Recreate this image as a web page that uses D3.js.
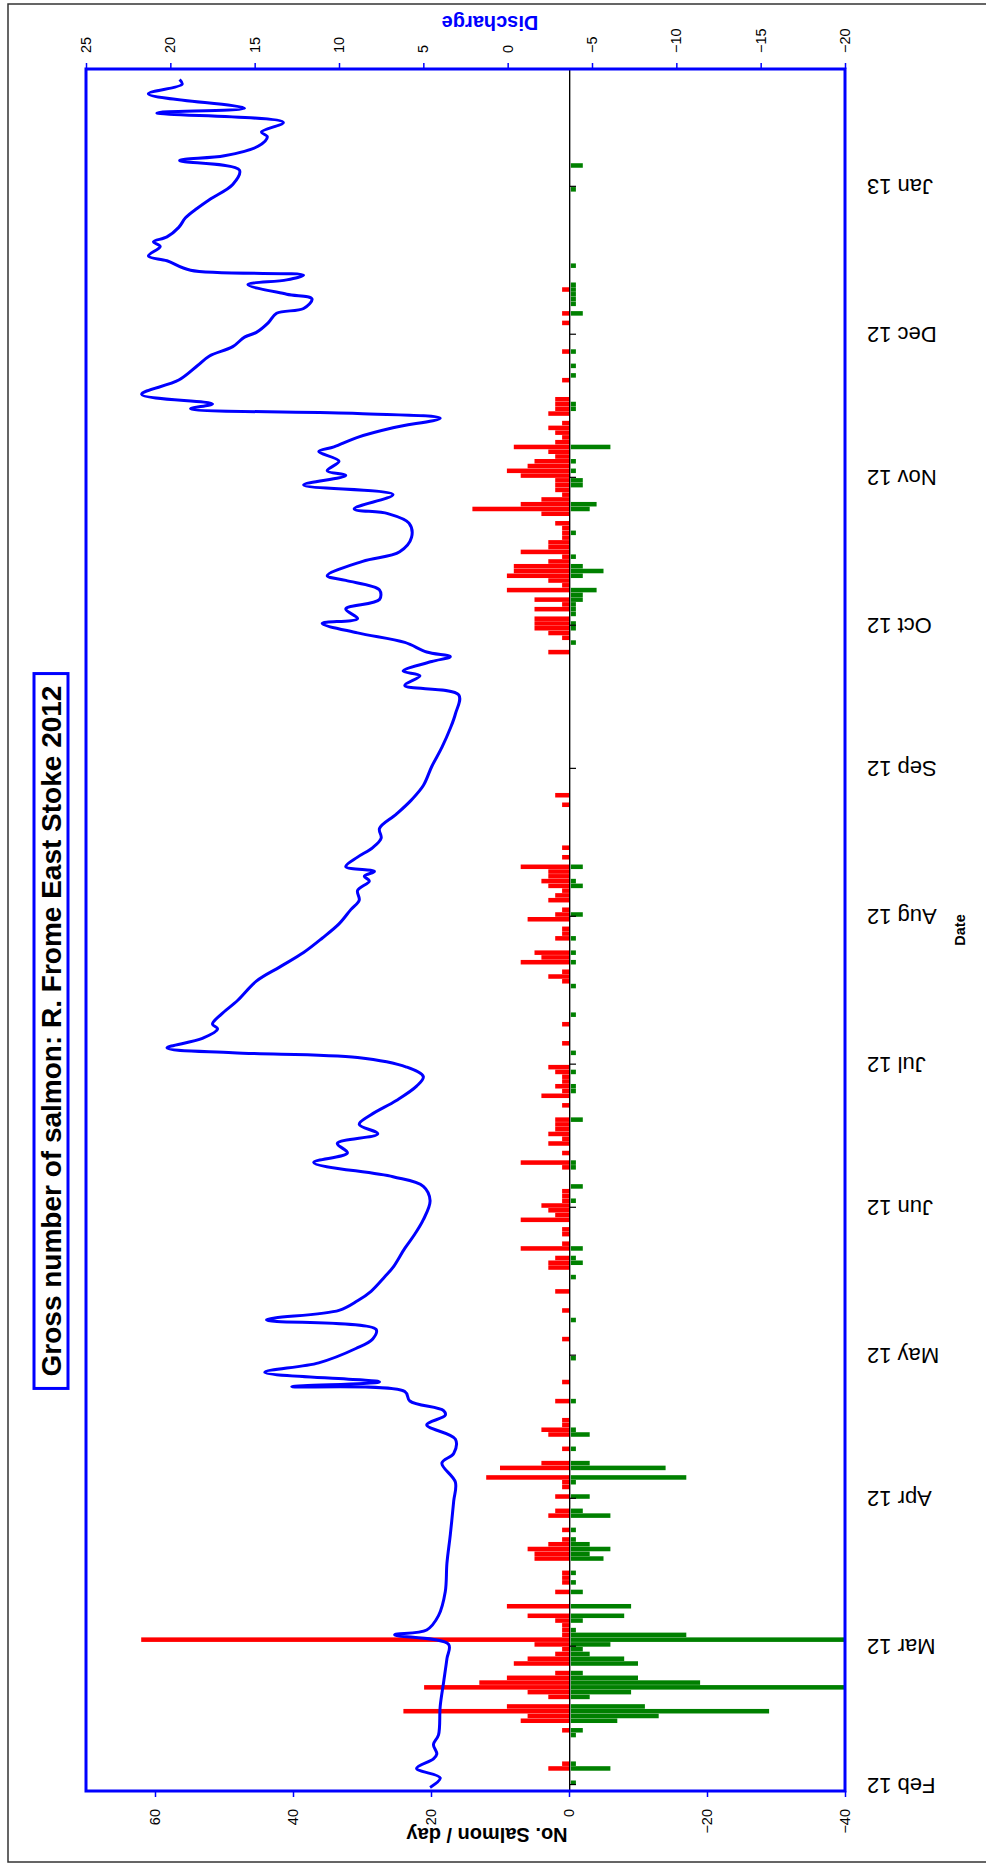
<!DOCTYPE html>
<html lang="en">
<head>
<meta charset="UTF-8">
<title>Gross number of salmon</title>
<style>
  body { margin: 0; background: #fff; }
  svg { display: block; font-family: "Liberation Sans", Arial, sans-serif; }
  .tick text { font-size: 14.5px; fill: #000; }
  .val-axis line { stroke: #0000ff; stroke-width: 1.5px; }
  .val-axis path { display: none; }
  .date-axis path { stroke: #000; stroke-width: 1px; }
  .date-axis line { stroke: #000; stroke-width: 1.2px; }
</style>
</head>
<body>
<svg></svg>
<script src="https://cdn.jsdelivr.net/npm/d3@7"></script>
<script>
// day numbers count from 1 Feb 2012
var countDay = [0,3,4,10,11,13,14,15,16,18,19,20,21,22,23,25,26,27,28,29,30,31,32,33,34,35,37,40,42,43,44,47,48,49,50,51,53,56,57,60,62,63,64,66,67,70,73,74,75,76,80,84,89,93,97,99,103,
  106,108,109,110,112,113,115,116,118,119,120,121,122,123,124,125,129,130,132,134,135,136,137,138,139,142,144,145,146,147,148,149,150,153,155,159,161,167,168,169,170,172,173,174,177,178,179,181,182,183,185,186,187,188,189,190,191,192,194,196,205,207,
  237,239,240,241,242,243,244,245,246,247,248,249,250,251,252,253,254,255,256,257,258,259,260,261,262,263,264,266,267,268,269,270,271,272,273,274,275,276,277,278,279,280,281,282,283,284,285,287,288,289,290,294,295,297,300,306,308,310,311,312,313,314,318,334,339];
var salmonUp = [0,3,1,0,1,7,6,24,9,3,6,21,13,9,2,8,6,2,1,5,62,1,1,1,2,6,9,2,1,1,1,5,5,6,3,1,1,3,2,2,1,1,12,10,4,1,3,4,1,1,2,1,0,1,0,1,2,
  0,3,3,2,7,1,1,1,7,2,3,4,1,1,1,0,1,7,1,3,1,3,2,2,2,1,4,1,2,1,1,2,3,0,1,1,0,0,1,3,1,7,4,5,2,1,1,6,2,1,3,2,1,3,4,3,3,7,1,1,1,2,
  3,0,1,3,5,5,5,0,5,1,5,0,9,1,3,9,8,8,3,1,7,3,3,1,1,1,2,4,14,7,4,1,2,2,2,7,9,6,5,2,3,8,2,1,2,3,1,3,2,2,2,1,0,0,1,1,1,0,0,0,1,0,0,0,0];
var salmonDown = [-1,-6,-1,-1,-2,-7,-13,-29,-11,-3,-9,-40,-19,-10,-2,-10,-8,-3,-2,-6,-40,-17,-1,0,-2,-8,-9,-2,-1,0,-1,-5,-3,-6,-3,-1,-1,-6,-2,-3,0,-1,-17,-14,-3,-1,-3,-1,0,0,-1,0,-1,0,-1,0,0,
  -1,0,-2,-1,-2,0,0,0,0,0,0,0,-1,0,0,-2,-1,-1,0,0,0,0,0,0,-2,0,0,-1,-1,0,0,-1,0,-1,0,0,-1,-1,0,0,0,-1,0,-1,-1,0,0,0,-2,0,0,0,0,-2,-1,0,0,-2,0,0,0,0,
  0,-1,0,0,-1,-1,0,-1,-1,-1,-2,-2,-4,0,0,-2,-5,-2,0,-1,0,0,0,0,-1,0,0,0,-3,-4,0,0,0,-2,-2,0,-1,0,-1,0,0,-6,0,0,0,0,0,0,-1,-1,0,0,-1,-1,-1,0,-2,-1,-1,-1,-1,-1,-1,-1,-2];

var dischargeDay = [-1,1,3,5,6,8,10,16,21,26,29,31,32,35,40,46,52,59,63,67,69,72,75,77,78,80,82,83,84,86,88,91,93,95,97,99,101,103,106,108,112,115,118,122,
  125,127,130,132,134,136,138,140,143,146,148,150,152,153,154,156,158,159,161,164,168,171,174,177,180,183,185,187,189,190,191,192,194,196,198,200,203,206,209,213,217,221,224,228,
  230,232,233,235,236,237,239,241,243,244,246,248,250,252,253,256,258,261,264,266,267,270,272,274,275,277,279,280,282,284,286,287,288,289,291,294,297,299,301,303,304,306,308,309,311,312,314,315,316,317,319,320,322,323,324,326,328,330,
  332,335,338,340,341,343,345,346,348,350,351,354,356,357];
var dischargeValue = [4.6,4.0,5.4,4.4,4.2,4.4,4.1,4.0,3.8,3.6,3.5,6.7,4.8,4.1,3.7,3.6,3.4,3.2,3.1,3.9,3.2,3.1,4.8,3.7,3.8,5.8,6.1,12.8,7.6,14.4,11.2,9.0,8.0,7.8,14.3,10.0,8.9,8.1,7.3,6.8,6.1,5.5,5.0,4.6,
  5.0,6.8,11.5,9.5,10.1,7.7,8.8,8.1,6.6,5.4,5.0,6.0,8.9,16.3,20.2,18.1,17.2,17.5,17.0,16.0,14.9,13.5,12.1,11.0,10.0,9.3,8.8,8.9,8.2,8.5,7.9,9.6,8.9,8.0,7.5,7.6,6.6,5.7,5.0,4.5,3.9,3.4,3.1,2.9,
  6.1,5.2,6.2,4.5,3.4,4.8,6.1,8.9,11.0,8.9,9.6,7.6,7.6,9.6,10.7,8.6,6.4,5.7,5.85,7.1,9.1,6.8,12.1,9.6,10.7,10.0,11.2,10.3,8.9,6.8,4.0,8.9,18.8,17.5,21.7,19.5,18.4,17.7,16.3,15.6,14.9,14.2,13.7,12.1,11.6,13.1,15.4,13.1,12.1,18.8,20.2,21.3,20.6,21.0,20.2,19.5,19.1,18.4,
  17.6,16.3,15.9,19.45,16.8,14.8,14.25,14.6,13.3,20.8,15.6,21.3,19.3,19.45];

var monthLabels = ["Feb 12","Mar 12","Apr 12","May 12","Jun 12","Jul 12","Aug 12","Sep 12","Oct 12","Nov 12","Dec 12","Jan 13"];
var salmonTicks = [-40,-20,0,20,40,60];
var dischargeTicks = [25,20,15,10,5,0,-5,-10,-15,-20];

var W = 986, H = 1869;
var DAY = 864e5;
var start = Date.UTC(2012, 1, 1);
function dayToDate(d) { return new Date(start + d * DAY); }

// chart is drawn in a landscape frame, then turned a quarter turn
var pL = 78, pR = 1800, pT = 86, pB = 845;

var svg = d3.select('svg').attr('width', W).attr('height', H);
var g = svg.append('g').attr('transform', 'translate(0,' + H + ') rotate(-90)');

var x = d3.scaleUtc()
  .domain([dayToDate(-1.25), dayToDate(359.7)])
  .range([pL, pR]);
var ySalmon = d3.scaleLinear().domain([-40, 70]).range([pB, pT]);
var yDis = d3.scaleLinear().domain([-20, 25]).range([pB, pT]);
var dayW = x(dayToDate(1)) - x(dayToDate(0));

// outer frame
g.append('rect')
  .attr('x', 7).attr('y', 8).attr('width', 1858).attr('height', 990)
  .attr('fill', 'none').attr('stroke', '#333').attr('stroke-width', 1.5);

g.append('clipPath').attr('id', 'plotclip')
  .append('rect').attr('x', pL).attr('y', pT).attr('width', pR - pL).attr('height', pB - pT);

var plot = g.append('g').attr('clip-path', 'url(#plotclip)');

// bars
var rows = countDay.map(function (d, i) { return { day: d, up: salmonUp[i], down: salmonDown[i] }; });
plot.selectAll('.up').data(rows.filter(function (r) { return r.up > 0; }))
  .enter().append('rect').attr('class', 'up')
  .attr('x', function (r) { return x(dayToDate(r.day)); })
  .attr('width', dayW * 0.95)
  .attr('y', function (r) { return ySalmon(r.up); })
  .attr('height', function (r) { return ySalmon(0) - ySalmon(r.up); })
  .attr('fill', '#ff0000');
plot.selectAll('.down').data(rows.filter(function (r) { return r.down < 0; }))
  .enter().append('rect').attr('class', 'down')
  .attr('x', function (r) { return x(dayToDate(r.day)); })
  .attr('width', dayW * 0.95)
  .attr('y', ySalmon(0))
  .attr('height', function (r) { return ySalmon(r.down) - ySalmon(0); })
  .attr('fill', '#008000');

// date axis along zero
var months = d3.utcMonth.range(dayToDate(0), dayToDate(336));
var y0 = ySalmon(0);
g.append('line').attr('x1', pL).attr('x2', pR).attr('y1', y0 + 1.3).attr('y2', y0 + 1.3)
  .attr('stroke', '#999').attr('stroke-width', 1.2);
g.append('g').attr('class', 'date-axis')
  .attr('transform', 'translate(0,' + y0 + ')')
  .call(d3.axisBottom(x).tickValues(months).tickSize(7).tickSizeOuter(0).tickFormat(''));

// discharge line
var pts = dischargeDay.map(function (d, i) { return [d, dischargeValue[i]]; });
var line = d3.line()
  .x(function (p) { return x(dayToDate(p[0] + 0.5)); })
  .y(function (p) { return yDis(p[1]); })
  .curve(d3.curveCatmullRom.alpha(0.5));
plot.append('path').datum(pts)
  .attr('d', line)
  .attr('fill', 'none').attr('stroke', '#0000ff').attr('stroke-width', 3)
  .attr('stroke-linejoin', 'round');

// plot border
g.append('rect')
  .attr('x', pL).attr('y', pT).attr('width', pR - pL).attr('height', pB - pT)
  .attr('fill', 'none').attr('stroke', '#0000ff').attr('stroke-width', 3);

// value axes
g.append('g').attr('class', 'val-axis')
  .attr('transform', 'translate(' + pL + ',0)')
  .call(d3.axisLeft(ySalmon).tickValues(salmonTicks).tickSize(6).tickPadding(12));
g.append('g').attr('class', 'val-axis')
  .attr('transform', 'translate(' + pR + ',0)')
  .call(d3.axisRight(yDis).tickValues(dischargeTicks).tickSize(6).tickPadding(10));

// month labels under the plot
g.selectAll('.mlab').data(months).enter().append('text')
  .attr('class', 'mlab')
  .attr('transform', function (m) { return 'translate(' + x(m) + ',867) rotate(-90)'; })
  .attr('text-anchor', 'end')
  .attr('dominant-baseline', 'central')
  .style('font-size', '22px')
  .text(function (m, i) { return monthLabels[i]; });

// axis titles
g.append('text')
  .attr('transform', 'translate(34,487) rotate(-90)')
  .attr('text-anchor', 'middle').attr('dominant-baseline', 'central')
  .style('font-size', '20px').style('font-weight', 'bold')
  .text('No. Salmon / day');
g.append('text')
  .attr('transform', 'translate(1846,490) rotate(-90)')
  .attr('text-anchor', 'middle').attr('dominant-baseline', 'central')
  .style('font-size', '20px').style('font-weight', 'bold').attr('fill', '#0000ff')
  .text('Discharge');
g.append('text')
  .attr('x', (pL + pR) / 2).attr('y', 960)
  .attr('text-anchor', 'middle').attr('dominant-baseline', 'central')
  .style('font-size', '14.5px').style('font-weight', 'bold')
  .text('Date');

// chart title in a box
var tg = g.append('g').attr('transform', 'translate(838,51)');
var box = tg.append('rect').attr('fill', '#fff').attr('stroke', '#0000ff').attr('stroke-width', 3);
var tt = tg.append('text')
  .attr('text-anchor', 'middle').attr('dominant-baseline', 'central')
  .style('font-size', '28px').style('font-weight', 'bold')
  .text('Gross number of salmon: R. Frome East Stoke 2012');
var bb = tt.node().getBBox();
box.attr('x', bb.x - 12).attr('y', -17).attr('width', bb.width + 24).attr('height', 34);
</script>
</body>
</html>
